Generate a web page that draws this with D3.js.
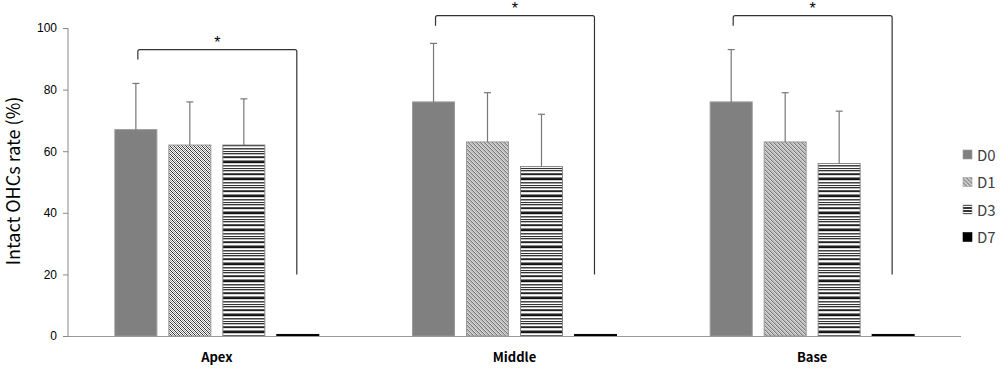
<!DOCTYPE html>
<html><head><meta charset="utf-8">
<script src="https://cdn.jsdelivr.net/npm/d3@7"></script>
<style>body{margin:0;background:#fff}svg{display:block}</style>
</head><body>
<svg id="c" width="1000" height="369"></svg>
<script>
const categories = ["Apex", "Middle", "Base"];
const series = ["D0", "D1", "D3", "D7"];
const D0 = [67, 76, 76];
const D1 = [62, 63, 63];
const D3 = [62, 55, 56];
const D7 = [0.5, 0.5, 0.5];
const D0err = [15, 19, 17];
const D1err = [14, 16, 16];
const D3err = [15, 17, 17];
const D7err = [0, 0, 0];
const yTicks = [0, 20, 40, 60, 80, 100];
const bracketTop = [93, 104, 104];
const bracketRightEnd = [20, 20, 20];
const sigLabel = ["*", "*", "*"];

(function () {
const values = {D0, D1, D3, D7};
const errs = {D0: D0err, D1: D1err, D3: D3err, D7: D7err};

const svg = d3.select("#c");
const defs = svg.append("defs");

// D1: checker dither with "\" diagonals alternating dark / mid gray
const p1 = defs.append("pattern").attr("id","pD1").attr("patternUnits","userSpaceOnUse")
  .attr("width",4).attr("height",4);
p1.append("rect").attr("width",4).attr("height",4).attr("fill","#fff");
for (let px = 0; px < 4; px++) for (let py = 0; py < 4; py++) {
  const d = ((px - py) % 4 + 4) % 4;
  if (d === 0) p1.append("rect").attr("x",px).attr("y",py).attr("width",1).attr("height",1).attr("fill","#333");
  else if (d === 2) p1.append("rect").attr("x",px).attr("y",py).attr("width",1).attr("height",1).attr("fill","#999");
}

const stripeRows = ["#333","#bbb","#fff","#555","#222","#ddd","#fff","#888","#222","#111","#ccc","#fff","#444","#999","#fff","#333","#eee"];
const p3 = defs.append("pattern").attr("id","pD3").attr("patternUnits","userSpaceOnUse")
  .attr("width",4).attr("height",stripeRows.length);
stripeRows.forEach((c,i)=>p3.append("rect").attr("x",0).attr("y",i).attr("width",4).attr("height",1).attr("fill",c));

const p3l = defs.append("pattern").attr("id","pD3l").attr("patternUnits","userSpaceOnUse")
  .attr("width",4).attr("height",3);
p3l.append("rect").attr("width",4).attr("height",3).attr("fill","#fff");
p3l.append("rect").attr("y",0).attr("width",4).attr("height",2).attr("fill","#333");

const fills = {D0: "#808080", D1: "url(#pD1)", D3: "url(#pD3)", D7: "#000"};
const strokes = {D0: "#999", D1: "#999", D3: "#888", D7: "#000"};

const mLeft = 68, mRight = 961, mTop = 28, mBottom = 336;
const x0 = d3.scaleBand().domain(categories).range([mLeft, mRight]).paddingInner(0).paddingOuter(0);
const x1 = d3.scaleBand().domain(series).range([0, x0.bandwidth()]).paddingInner(0.222).paddingOuter(0.868);
const y = d3.scaleLinear().domain([0, 100]).range([mBottom, mTop]);

const yAxis = d3.axisLeft(y).tickValues(yTicks).tickSize(5).tickPadding(6);
const ga = svg.append("g").attr("transform", `translate(${mLeft},0)`).call(yAxis);
ga.select(".domain").attr("stroke","#888").attr("d", `M0,${mTop}V${mBottom}`);
ga.selectAll(".tick line").attr("stroke","#888");
ga.selectAll(".tick text").attr("font-family","Liberation Sans, Arial, sans-serif").attr("font-size",12).attr("fill","#000");

categories.forEach((cat, ci) => {
  const g = svg.append("g").attr("transform", `translate(${x0(cat)},0)`);
  series.forEach(s => {
    const v = values[s][ci];
    g.append("rect")
      .attr("x", x1(s)).attr("y", y(v))
      .attr("width", x1.bandwidth()).attr("height", y(0) - y(v))
      .attr("fill", fills[s]).attr("stroke", strokes[s]).attr("stroke-width", 1);
    const e = errs[s][ci];
    if (e > 0) {
      const cx = x1(s) + x1.bandwidth() / 2;
      g.append("line").attr("x1", cx).attr("x2", cx).attr("y1", y(v)).attr("y2", y(v + e)).attr("stroke", "#777").attr("stroke-width", 1.2);
      g.append("line").attr("x1", cx - 3.5).attr("x2", cx + 3.5).attr("y1", y(v + e)).attr("y2", y(v + e)).attr("stroke", "#777").attr("stroke-width", 1.2);
    }
  });
  const lx = x1("D0") + x1.bandwidth() / 2 + 2;
  const rx = x1("D7") + x1.bandwidth() / 2 - 1;
  const by = y(bracketTop[ci]);
  g.append("path")
    .attr("d", `M${lx},${by + 10}V${by + 2}Q${lx},${by} ${lx + 2},${by}H${rx - 2}Q${rx},${by} ${rx},${by + 2}V${y(bracketRightEnd[ci])}`)
    .attr("fill", "none").attr("stroke", "#333").attr("stroke-width", 1.2);
  g.append("text").attr("x", (lx + rx) / 2).attr("y", by - 2)
    .attr("text-anchor", "middle").attr("font-family", "Liberation Sans, Arial, sans-serif")
    .attr("font-size", 16).attr("fill", "#000").text(sigLabel[ci]);
});

svg.append("line").attr("x1", mLeft).attr("x2", mRight).attr("y1", mBottom + 0.5).attr("y2", mBottom + 0.5).attr("stroke", "#999");

svg.append("g").selectAll("text").data(categories).join("text")
  .attr("x", d => x0(d) + x0.bandwidth() / 2).attr("y", 362)
  .attr("text-anchor", "middle").attr("font-family", "Noto Sans CJK KR, Noto Sans, sans-serif")
  .attr("font-weight", "bold").attr("font-size", 13).attr("fill", "#000").text(d => d);

svg.append("text").attr("transform", "translate(20,181) rotate(-90)")
  .attr("text-anchor", "middle").attr("font-family", "Noto Sans CJK KR, Noto Sans, sans-serif")
  .attr("font-size", 18).attr("fill", "#000").text("Intact OHCs rate (%)");

const legFills = {D0: "#808080", D1: "url(#pD1)", D3: "url(#pD3l)", D7: "#000"};
const lg = svg.append("g").selectAll("g").data(series).join("g")
  .attr("transform", (d, i) => `translate(963,${155 + i * 27.5})`);
lg.append("rect").attr("x", 0).attr("y", -5).attr("width", 9).attr("height", 9)
  .attr("fill", d => legFills[d]).attr("stroke", d => d === "D7" ? "#000" : "#999").attr("stroke-width", 0.6);
lg.append("text").attr("x", 14).attr("y", 5.5).attr("font-family", "Noto Sans CJK KR, Noto Sans, sans-serif")
  .attr("font-size", 15).attr("fill", "#404040").text(d => d);
})();
</script>
</body></html>
